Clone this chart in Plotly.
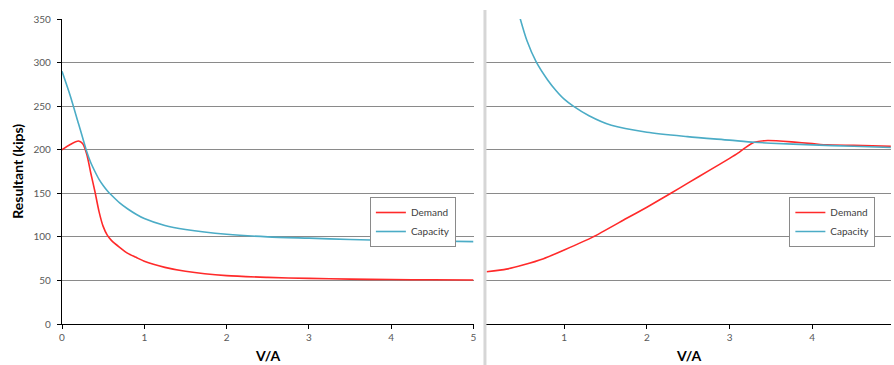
import plotly.graph_objects as go

# ---------------- data ----------------
x_left = [0, 0.1, 0.2, 0.25, 0.3, 0.35, 0.4, 0.45, 0.5, 0.55, 0.6, 0.7, 0.8, 0.9,
          1.0, 1.25, 1.5, 2.0, 2.5, 3.0, 3.5, 4.0, 4.5, 5.0]
demand_left = [200, 206, 210, 207, 195, 173, 152, 129, 112, 102, 96, 88, 81, 76.5,
               72, 65, 60.5, 55.5, 53.5, 52.3, 51.5, 51, 50.7, 50.5]
capacity_left = [290, 262, 230, 214, 198, 185, 175, 166, 159, 153, 148, 139, 132, 126,
                 121, 113, 108.5, 103, 100, 98.5, 97, 96, 95.2, 94.5]

x_right_dem = [0.06, 0.3, 0.5, 0.75, 1.0, 1.35, 1.75, 2.0, 2.29, 2.5, 2.75, 3.0,
               3.1, 3.2, 3.3, 3.46, 3.75, 4.0, 4.18, 4.5, 4.95]
demand_right = [60, 63, 67.7, 75, 85, 100, 121, 134, 150, 162, 176, 190,
                196, 203, 208.5, 210.5, 209, 207, 205.5, 205, 204]

x_right_cap = [0.46, 0.55, 0.66, 0.8, 0.9, 1.0, 1.11, 1.3, 1.57, 2.0, 2.49, 3.0,
               3.3, 3.5, 4.0, 4.5, 4.95]
capacity_right = [353, 325, 301, 280, 268, 258, 250, 239, 228, 220, 215, 211,
                  208.6, 207.5, 205.5, 204, 202.5]

y_ticks = [0, 50, 100, 150, 200, 250, 300, 350]
x_ticks = [0, 1, 2, 3, 4, 5]

RED = "#ff2a2a"
CYAN = "#4bacc6"
FONT = "Lato"

fig = go.Figure()
fig.add_trace(go.Scatter(x=x_left, y=demand_left, mode="lines", name="Demand",
                         line=dict(color=RED, width=1.6, shape="spline", smoothing=0.7),
                         xaxis="x", yaxis="y", legend="legend"))
fig.add_trace(go.Scatter(x=x_left, y=capacity_left, mode="lines", name="Capacity",
                         line=dict(color=CYAN, width=1.6, shape="spline", smoothing=0.7),
                         xaxis="x", yaxis="y", legend="legend"))
fig.add_trace(go.Scatter(x=x_right_dem, y=demand_right, mode="lines", name="Demand",
                         line=dict(color=RED, width=1.6, shape="spline", smoothing=0.5),
                         xaxis="x2", yaxis="y2", legend="legend2"))
fig.add_trace(go.Scatter(x=x_right_cap, y=capacity_right, mode="lines", name="Capacity",
                         line=dict(color=CYAN, width=1.6, shape="spline", smoothing=0.8),
                         xaxis="x2", yaxis="y2", legend="legend2"))

W, H = 894, 365
PL, PT, PB = 62, 19, 324
L, T, B, R = PL, PT, H - PB, 0
pw = W - L - R
ph = H - T - B

def px_x(p):
    return (p - PL) / pw

def px_y(p):
    return (PB - p) / ph

grid = dict(showgrid=True, gridcolor="#8a8a8a", gridwidth=1.3)
tickfont = dict(family=FONT, size=10, color="#595959")

fig.update_layout(
    width=W, height=H,
    margin=dict(l=L, r=R, t=T, b=B),
    paper_bgcolor="white", plot_bgcolor="white",
    font=dict(family=FONT, size=10, color="#404040"),
    xaxis=dict(domain=[0, px_x(475)], range=[0, 5], tickvals=x_ticks, ticks="outside",
               ticklen=4, tickcolor="black", showline=True, linecolor="black", linewidth=1.3,
               showgrid=False, zeroline=False, tickfont=tickfont, anchor="y"),
    yaxis=dict(domain=[0, 1], range=[0, 350], tickvals=y_ticks, ticks="outside",
               ticklen=4, tickcolor="black", showline=True, linecolor="black", linewidth=1.3,
               zeroline=False, tickfont=tickfont, anchor="x", ticklabelstandoff=4, **grid),
    xaxis2=dict(domain=[px_x(488), 1], range=[0.06, 4.952], tickvals=x_ticks, ticks="outside",
                ticklen=4, tickcolor="black", showline=True, linecolor="black", linewidth=1.3,
                showgrid=False, zeroline=False, tickfont=tickfont, anchor="y2"),
    yaxis2=dict(domain=[0, 1], range=[0, 350], tickvals=y_ticks, showticklabels=False,
                showline=False, zeroline=False, anchor="x2", **grid),
    legend=dict(x=px_x(371), y=px_y(197), xanchor="left", yanchor="top",
                bgcolor="white", bordercolor="#8a8a8a", borderwidth=1,
                font=dict(family=FONT, size=10, color="#404040"),
                itemwidth=30, tracegroupgap=0),
    legend2=dict(x=px_x(792), y=px_y(197), xanchor="left", yanchor="top",
                 bgcolor="white", bordercolor="#8a8a8a", borderwidth=1,
                 font=dict(family=FONT, size=10, color="#404040"),
                 itemwidth=30, tracegroupgap=0),
    showlegend=True,
)

# separator between the two panels
fig.add_shape(type="line", xref="paper", yref="paper",
              x0=px_x(486.5), x1=px_x(486.5), y0=px_y(H), y1=px_y(10),
              line=dict(color="#d6d6d6", width=3))

fig.add_annotation(text="<b>Resultant (kips)</b>", xref="paper", yref="paper",
                   x=px_x(17), y=px_y(171.5), textangle=-90, showarrow=False,
                   font=dict(family=FONT, size=14, color="black"),
                   xanchor="center", yanchor="middle")
fig.add_annotation(text="<b>V/A</b>", xref="paper", yref="paper",
                   x=px_x(268.5), y=px_y(355), showarrow=False,
                   font=dict(family=FONT, size=14, color="black"),
                   xanchor="center", yanchor="middle")
fig.add_annotation(text="<b>V/A</b>", xref="paper", yref="paper",
                   x=px_x(691), y=px_y(355), showarrow=False,
                   font=dict(family=FONT, size=14, color="black"),
                   xanchor="center", yanchor="middle")

fig.write_html("out.html", config={"displayModeBar": False},
               post_script="document.body.style.margin='0';document.body.style.overflow='hidden';")
